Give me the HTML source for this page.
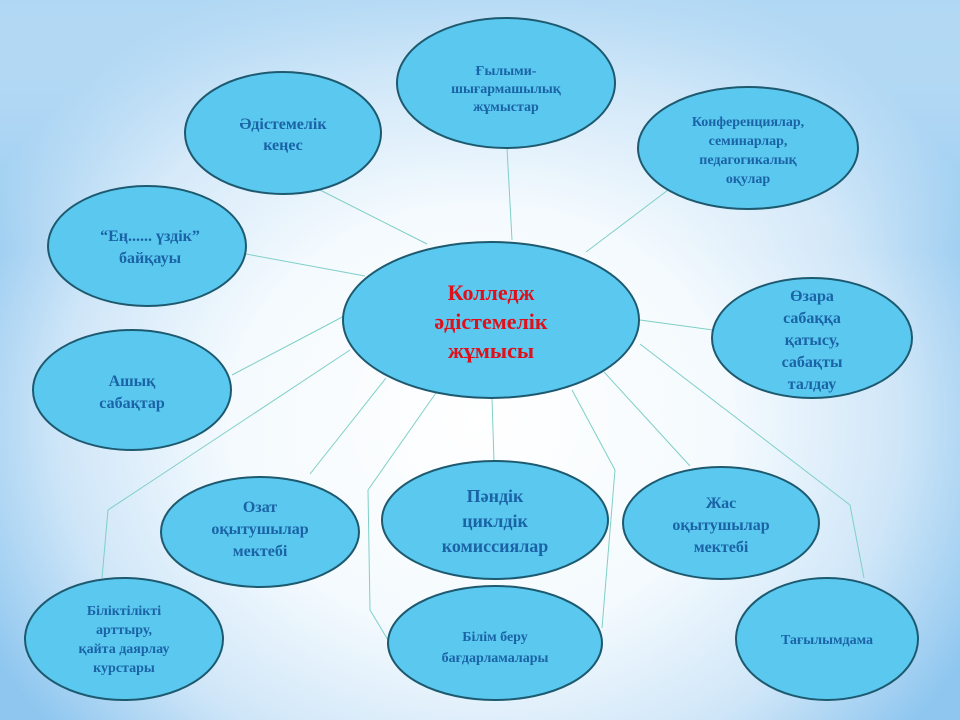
<!DOCTYPE html>
<html><head><meta charset="utf-8"><style>
html,body{margin:0;padding:0}
body{width:960px;height:720px;overflow:hidden;background:radial-gradient(ellipse 560px 480px at 480px 420px,#ffffff 0%,#f4fafe 45%,#cfe6f8 75%,#8ec6ef 100%);}
svg{position:absolute;left:0;top:0}
text{font-family:"Liberation Serif",serif;font-weight:bold;fill:#1a63a6;text-anchor:middle}
</style></head><body>
<svg width="960" height="720" viewBox="0 0 960 720">
<defs><linearGradient id="top" x1="0" y1="0" x2="0" y2="1"><stop offset="0" stop-color="#b9dcf5" stop-opacity="0.8"/><stop offset="0.35" stop-color="#ffffff" stop-opacity="0"/></linearGradient></defs>
<rect width="960" height="720" fill="url(#top)"/>
<g stroke="#7fcfc7" stroke-width="1" fill="none">
<line x1="512" y1="240" x2="507" y2="148"/>
<line x1="586" y1="252" x2="668" y2="190"/>
<line x1="427" y1="244" x2="320" y2="190"/>
<line x1="365" y1="276" x2="246" y2="254"/>
<line x1="640" y1="320" x2="713" y2="330"/>
<line x1="348" y1="314" x2="232" y2="375"/>
<polyline points="350,350 108,510 102,578"/>
<line x1="386" y1="378" x2="310" y2="474"/>
<polyline points="438,390 368,490 370,610 388,640"/>
<line x1="492" y1="398" x2="494" y2="461"/>
<polyline points="572,390 615,470 602,628"/>
<line x1="604" y1="372" x2="690" y2="466"/>
<polyline points="640,344 850,505 864,578"/>
</g>
<g fill="#5bc9ef" stroke="#1d5a70" stroke-width="2">
<ellipse cx="491" cy="320" rx="148" ry="78"/>
<ellipse cx="506" cy="83" rx="109" ry="65"/>
<ellipse cx="283" cy="133" rx="98" ry="61"/>
<ellipse cx="748" cy="148" rx="110" ry="61"/>
<ellipse cx="147" cy="246" rx="99" ry="60"/>
<ellipse cx="812" cy="338" rx="100" ry="60"/>
<ellipse cx="132" cy="390" rx="99" ry="60"/>
<ellipse cx="260" cy="532" rx="99" ry="55"/>
<ellipse cx="495" cy="520" rx="113" ry="59"/>
<ellipse cx="721" cy="523" rx="98" ry="56"/>
<ellipse cx="124" cy="639" rx="99" ry="61"/>
<ellipse cx="495" cy="643" rx="107" ry="57"/>
<ellipse cx="827" cy="639" rx="91" ry="61"/>
</g>
<g font-size="22"><text x="491" y="300" style="fill:#e0101a">Колледж</text><text x="491" y="329" style="fill:#e0101a">әдістемелік</text><text x="491" y="358" style="fill:#e0101a">жұмысы</text></g>
<g font-size="14"><text x="506" y="75">Ғылыми-</text><text x="506" y="93">шығармашылық</text><text x="506" y="111">жұмыстар</text></g>
<g font-size="16"><text x="283" y="129">Әдістемелік</text><text x="283" y="150">кеңес</text></g>
<g font-size="14"><text x="748" y="126">Конференциялар,</text><text x="748" y="145">семинарлар,</text><text x="748" y="164">педагогикалық</text><text x="748" y="183">оқулар</text></g>
<g font-size="16"><text x="150" y="241">“Ең...... үздік”</text><text x="150" y="263">байқауы</text></g>
<g font-size="16"><text x="812" y="301">Өзара</text><text x="812" y="323">сабаққа</text><text x="812" y="345">қатысу,</text><text x="812" y="367">сабақты</text><text x="812" y="389">талдау</text></g>
<g font-size="16"><text x="132" y="386">Ашық</text><text x="132" y="408">сабақтар</text></g>
<g font-size="16"><text x="260" y="512">Озат</text><text x="260" y="534">оқытушылар</text><text x="260" y="556">мектебі</text></g>
<g font-size="18"><text x="495" y="502">Пәндік</text><text x="495" y="527">циклдік</text><text x="495" y="552">комиссиялар</text></g>
<g font-size="16"><text x="721" y="508">Жас</text><text x="721" y="530">оқытушылар</text><text x="721" y="552">мектебі</text></g>
<g font-size="14"><text x="124" y="615">Біліктілікті</text><text x="124" y="634">арттыру,</text><text x="124" y="653">қайта даярлау</text><text x="124" y="672">курстары</text></g>
<g font-size="14"><text x="495" y="641">Білім беру</text><text x="495" y="662">бағдарламалары</text></g>
<g font-size="14"><text x="827" y="644">Тағылымдама</text></g>
</svg>
</body></html>
